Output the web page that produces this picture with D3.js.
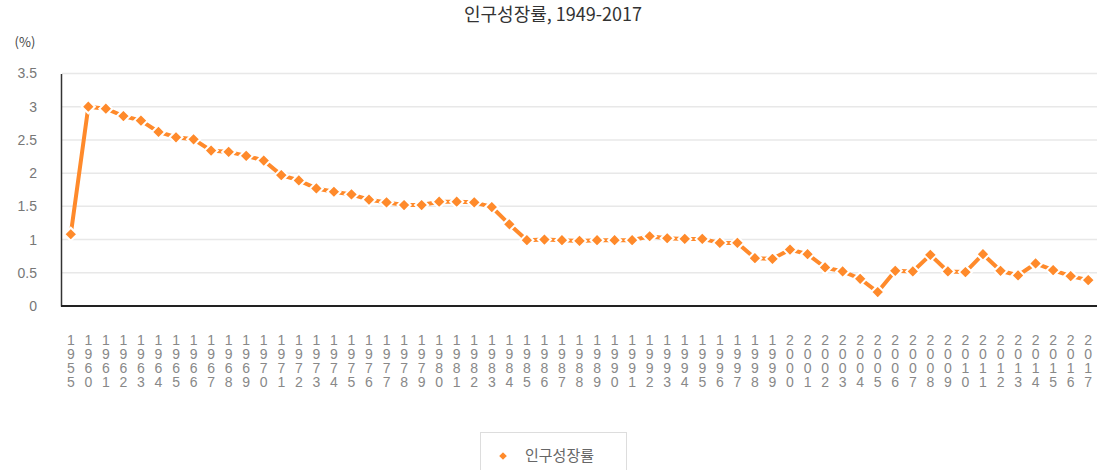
<!DOCTYPE html>
<html>
<head>
<meta charset="utf-8">
<script src="https://cdn.jsdelivr.net/npm/d3@7"></script>
<style>
  html, body { margin: 0; padding: 0; background: #fff; }
  svg { display: block; font-family: "Noto Sans CJK KR", "Noto Sans", sans-serif; }
</style>
</head>
<body>
<svg id="chart" width="1107" height="470"></svg>
<script>
// Years on the category axis
const years = ["1955",
  "1960","1961","1962","1963","1964","1965","1966","1967","1968","1969",
  "1970","1971","1972","1973","1974","1975","1976","1977","1978","1979",
  "1980","1981","1982","1983","1984","1985","1986","1987","1988","1989",
  "1990","1991","1992","1993","1994","1995","1996","1997","1998","1999",
  "2000","2001","2002","2003","2004","2005","2006","2007","2008","2009",
  "2010","2011","2012","2013","2014","2015","2016","2017"];

// Population growth rate (%)
const growthRate = [1.08,
  3.00, 2.97, 2.86, 2.79, 2.62, 2.54, 2.51, 2.34, 2.32, 2.26,
  2.19, 1.97, 1.89, 1.77, 1.72, 1.68, 1.60, 1.56, 1.52, 1.52,
  1.57, 1.57, 1.56, 1.49, 1.23, 0.99, 1.00, 0.99, 0.98, 0.99,
  0.99, 0.99, 1.05, 1.02, 1.01, 1.01, 0.95, 0.95, 0.72, 0.71,
  0.85, 0.78, 0.58, 0.52, 0.41, 0.21, 0.53, 0.52, 0.77, 0.52,
  0.51, 0.78, 0.53, 0.46, 0.64, 0.54, 0.45, 0.39];

const yTicks = [0, 0.5, 1, 1.5, 2, 2.5, 3, 3.5];

const seriesName = "인구성장률";
const titleText = "인구성장률, 1949-2017";
const unitText = "(%)";

const orange = "#ff8a2b";
const svg = d3.select("#chart");

const x = d3.scaleBand().domain(years).range([62, 1097]).paddingInner(0).paddingOuter(0);
const y = d3.scaleLinear().domain([0, 3.5]).range([306, 73.5]);

// Title and unit
svg.append("text")
  .attr("x", 553).attr("y", 21)
  .attr("text-anchor", "middle")
  .attr("font-size", 18).attr("fill", "#333")
  .text(titleText);

svg.append("text")
  .attr("x", 25).attr("y", 47)
  .attr("text-anchor", "middle")
  .attr("font-size", 13).attr("fill", "#444")
  .text(unitText);

// Horizontal gridlines
svg.append("g")
  .selectAll("line")
  .data(yTicks.filter(d => d > 0))
  .join("line")
  .attr("x1", 62).attr("x2", 1097)
  .attr("y1", d => y(d)).attr("y2", d => y(d))
  .attr("stroke", "#e8e8e8").attr("stroke-width", 1.5);

// Y axis
const yAxis = svg.append("g")
  .attr("transform", "translate(61,0)")
  .call(d3.axisLeft(y).tickValues(yTicks).tickSize(0).tickPadding(24)
    .tickFormat(d => String(d)));
yAxis.select(".domain").attr("stroke", "#333").attr("stroke-width", 1.5);
yAxis.selectAll("text")
  .attr("font-size", 14).attr("fill", "#777")
  .attr("font-family", "'Liberation Sans', Arial, sans-serif");

// X axis with vertically stacked digits
const xAxis = svg.append("g")
  .attr("transform", "translate(0,306)")
  .call(d3.axisBottom(x).tickSize(0).tickFormat(""));
xAxis.select(".domain").attr("stroke", "#222").attr("stroke-width", 2)
  .attr("d", "M61,0H1097");

xAxis.selectAll(".tick").each(function(d) {
  const t = d3.select(this).append("text")
    .attr("text-anchor", "middle")
    .attr("font-size", 14).attr("fill", "#888")
    .attr("font-family", "'Liberation Sans', Arial, sans-serif")
    .attr("y", 39);
  d.split("").forEach((ch, i) => {
    t.append("tspan").attr("x", 0).attr("dy", i === 0 ? 0 : 14).text(ch);
  });
});

// Series line
const pts = years.map((yr, i) => ({ yr, v: growthRate[i] }));
const line = d3.line()
  .x(d => x(d.yr) + x.bandwidth() / 2)
  .y(d => y(d.v));

svg.append("path")
  .datum(pts)
  .attr("d", line)
  .attr("fill", "none")
  .attr("stroke", orange)
  .attr("stroke-width", 4)
  .attr("stroke-linejoin", "round");

// Diamond markers
const diamond = d3.symbol().type(d3.symbolDiamond2).size(110);
svg.append("g")
  .selectAll("path")
  .data(pts)
  .join("path")
  .attr("transform", d => `translate(${x(d.yr) + x.bandwidth() / 2},${y(d.v)})`)
  .attr("d", diamond)
  .attr("fill", orange)
  .attr("stroke", "#fff")
  .attr("stroke-width", 2);

// Legend
const lg = svg.append("g");
lg.append("rect")
  .attr("x", 480.5).attr("y", 432.5)
  .attr("width", 146).attr("height", 44)
  .attr("fill", "#fff").attr("stroke", "#ddd");
lg.append("path")
  .attr("transform", "translate(503,456)")
  .attr("d", d3.symbol().type(d3.symbolDiamond2).size(60)())
  .attr("fill", orange)
  .attr("stroke", "#fff").attr("stroke-width", 1.5);
lg.append("text")
  .attr("x", 525).attr("y", 461)
  .attr("font-size", 15).attr("fill", "#666")
  .text(seriesName);
</script>
</body>
</html>
